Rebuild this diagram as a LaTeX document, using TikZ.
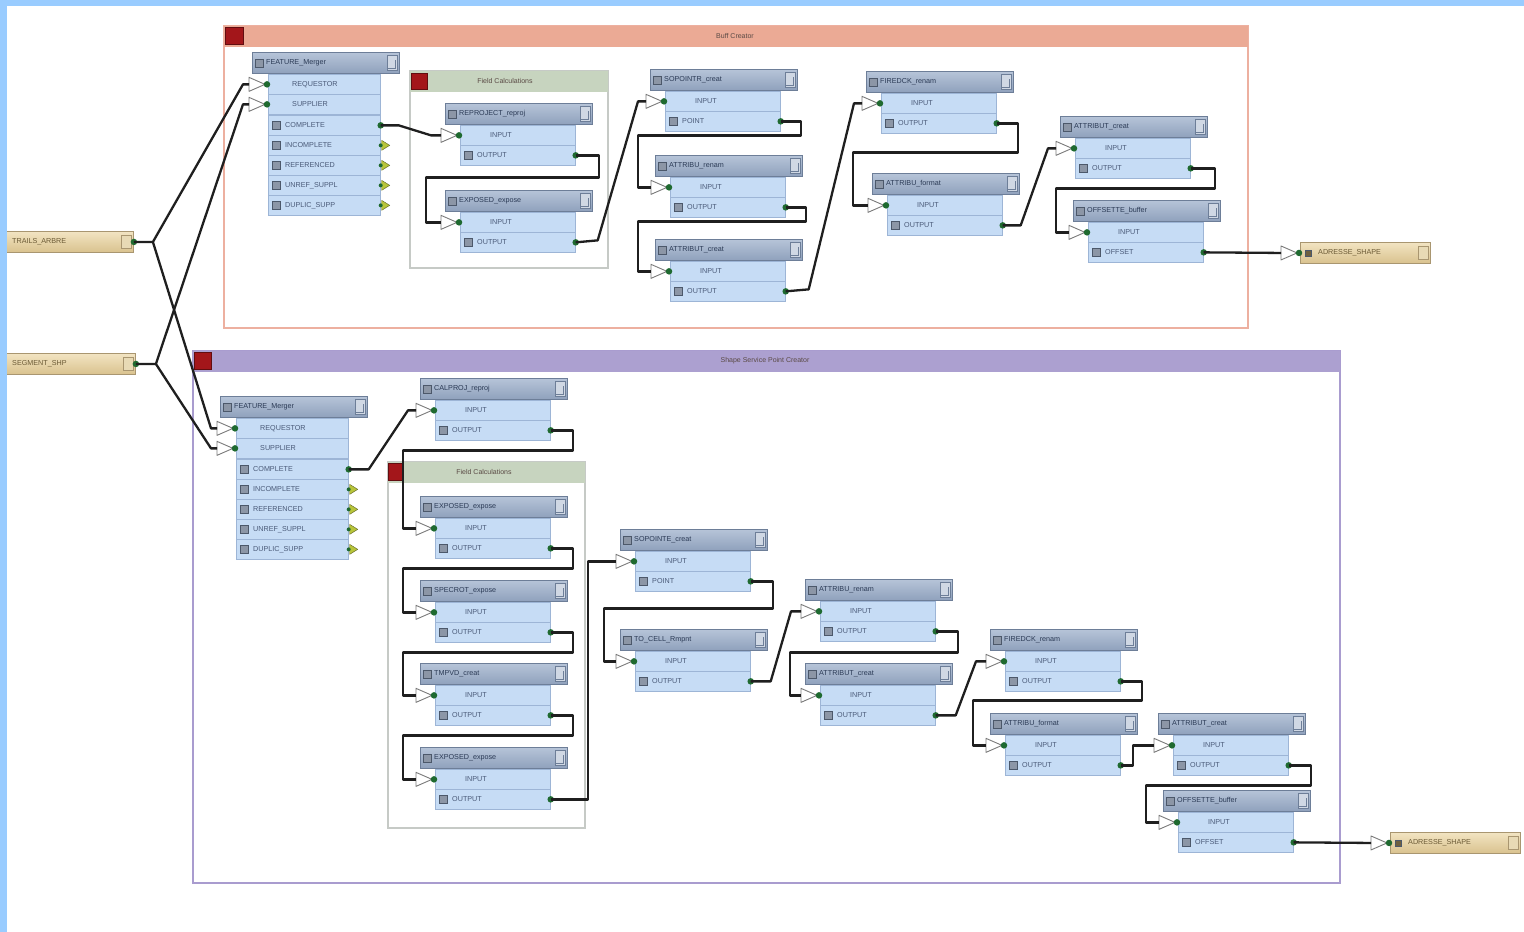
\documentclass[tikz,border=0pt]{standalone}
\usepackage{fontspec}
\setsansfont{Liberation Sans}
\usetikzlibrary{calc}

% palette
\definecolor{pageblue}{HTML}{99CCFF}
\definecolor{hdrtop}{HTML}{B6C4D8}
\definecolor{hdrbot}{HTML}{8FA1BC}
\definecolor{hdredge}{HTML}{6D7E98}
\definecolor{rowfill}{HTML}{C6DCF5}
\definecolor{rowedge}{HTML}{9DB5D6}
\definecolor{hdrtext}{HTML}{2B3A55}
\definecolor{porttext}{HTML}{4A5A78}
\definecolor{portgreen}{HTML}{1F6A30}
\definecolor{trigrey}{HTML}{7A7A7A}
\definecolor{icongrey}{HTML}{8C96A6}
\definecolor{gripfill}{HTML}{D0D8E4}
\definecolor{filetop}{HTML}{F2E4C2}
\definecolor{filebot}{HTML}{D9C28E}
\definecolor{fileedge}{HTML}{A99670}
\definecolor{filetext}{HTML}{6B5A35}
\definecolor{fileicon}{HTML}{6F6040}
\definecolor{filegrip}{HTML}{E8DAB5}
\definecolor{bmred}{HTML}{A3161A}
\definecolor{salmonhdr}{HTML}{EBAA95}
\definecolor{salmonedge}{HTML}{EDB0A0}
\definecolor{purplehdr}{HTML}{ACA0D0}
\definecolor{purpleedge}{HTML}{A99CCF}
\definecolor{fchdr}{HTML}{C7D4BF}
\definecolor{fcedge}{HTML}{C6CAC6}
\definecolor{sparegreen}{HTML}{B8C43A}
\definecolor{bmtext}{HTML}{5A4A45}

\tikzset{
  tfhead/.style={anchor=north west, minimum width=147pt, minimum height=21pt,
    inner sep=0pt, draw=hdredge, line width=0.9pt, top color=hdrtop, bottom color=hdrbot},
  portrow/.style={anchor=north west, minimum width=115pt, minimum height=20pt,
    inner sep=0pt, fill=rowfill, draw=rowedge, line width=0.7pt},
  fmrow/.style={portrow, minimum width=112pt},
  hdrtxt/.style={anchor=west, inner sep=0pt, font=\fontsize{7.2}{8}\sffamily, text=hdrtext},
  porttxt/.style={anchor=west, inner sep=0pt, font=\fontsize{7.2}{8}\sffamily, text=porttext},
  bmtitle/.style={inner sep=0pt, font=\fontsize{7}{8}\sffamily, text=bmtext},
  pdot/.style={circle, fill=portgreen, inner sep=0pt, minimum size=6.5pt},
  tri/.style={fill=white, draw=trigrey, line width=0.9pt, line join=round},
  conn/.style={draw=black!88, line width=2.3pt, line join=round},
  mini/.style={minimum width=8pt, minimum height=8pt, inner sep=0pt,
    draw=hdredge!70!black, line width=0.4pt, fill=icongrey},
  grip/.style={minimum width=10pt, minimum height=15pt, inner sep=0pt,
    draw=hdredge, line width=0.5pt, fill=gripfill},
  filebox/.style={anchor=north west, minimum height=21pt, inner sep=0pt,
    draw=fileedge, line width=0.9pt, top color=filetop, bottom color=filebot},
  redicon/.style={fill=bmred, draw=bmred!60!black, line width=0.6pt},
}

% input port: open triangle, green dot and the point where connectors arrive
\newcommand\inport[2]{%
  \draw[tri] ([xshift=-3pt]#1.west) -- ++(-16,-7) -- ++(0,14) -- cycle;
  \node[pdot] (#1-dot) at ([xshift=-1pt]#1.west) {};
  \coordinate (#2) at ([xshift=-19pt]#1.west);
}

% transformer title bar
\newcommand\tfhdr[4]{%
  \node[tfhead] (#1-h) at (#2,#3) {};
  \node[mini] (#1-hm) at ([xshift=7pt]#1-h.west) {};
  \node[hdrtxt] (#1-ht) at ([xshift=14pt]#1-h.west) {#4};
  \node[grip] (#1-hg) at ([xshift=-8pt]#1-h.east) {};
  \draw[hdredge, line width=0.5pt] ([xshift=-12pt,yshift=-5pt]#1-h.east) -- ([xshift=-5pt,yshift=-5pt]#1-h.east) -- ([xshift=-5pt,yshift=3pt]#1-h.east);
}

% one-input / one-output transformer
\newcommand\tfbox[6]{%
  \tfhdr{#1}{#2}{#3}{#4}
  \node[portrow] (#1-i) at (#2+15,#3+22) {};
  \node[porttxt] (#1-it) at ([xshift=30pt]#1-i.west) {#5};
  \node[portrow] (#1-o) at (#2+15,#3+42) {};
  \node[mini] (#1-oc) at ([xshift=8pt]#1-o.west) {};
  \node[porttxt] (#1-ot) at ([xshift=17pt]#1-o.west) {#6};
  \inport{#1-i}{#1-a}
  \node[pdot] (#1-od) at (#1-o.east) {};
}

% output row of the merger
\newcommand\fmout[4]{%
  \node[fmrow] (#1) at (#2,#3) {};
  \node[mini] (#1-ic) at ([xshift=8pt]#1.west) {};
  \node[porttxt] (#1-t) at ([xshift=17pt]#1.west) {#4};
}
% unconnected output marker
\newcommand\spare[1]{%
  \draw[fill=sparegreen, draw=sparegreen!50!black, line width=0.4pt]
    ([xshift=1pt]#1.east) -- ++(0,-5) -- ++(8,5) -- ++(-8,5) -- cycle;
  \node[pdot, minimum size=4pt] (#1-d) at (#1.east) {};
}

% FeatureMerger
\newcommand\fmbox[3]{%
  \tfhdr{#1}{#2}{#3}{FEATURE\_Merger}
  \node[fmrow] (#1-r) at (#2+16,#3+22) {};
  \node[porttxt] (#1-rt) at ([xshift=24pt]#1-r.west) {REQUESTOR};
  \node[fmrow] (#1-s) at (#2+16,#3+42) {};
  \node[porttxt] (#1-st) at ([xshift=24pt]#1-s.west) {SUPPLIER};
  \inport{#1-r}{#1-ra}
  \inport{#1-s}{#1-sa}
  \fmout{#1-c}{#2+16}{#3+63}{COMPLETE}
  \fmout{#1-n}{#2+16}{#3+83}{INCOMPLETE}
  \fmout{#1-f}{#2+16}{#3+103}{REFERENCED}
  \fmout{#1-u}{#2+16}{#3+123}{UNREF\_SUPPL}
  \fmout{#1-d}{#2+16}{#3+143}{DUPLIC\_SUPP}
  \node[pdot] (#1-cd) at (#1-c.east) {};
  \spare{#1-n}\spare{#1-f}\spare{#1-u}\spare{#1-d}
}

% reader / writer feature type
\newcommand\fmefile[5]{%
  \node[filebox, minimum width=#4pt] (#1) at (#2,#3) {};
  \node[mini, fill=fileicon, minimum width=6pt, minimum height=6pt] (#1-m) at ([xshift=8pt]#1.west) {};
  \node[hdrtxt, text=filetext] (#1-t) at ([xshift=18pt]#1.west) {#5};
  \node[grip, draw=fileedge, fill=filegrip, minimum height=13pt] (#1-g) at ([xshift=-8pt]#1.east) {};
}

% bookmark frame with coloured title band
\newcommand\bookmark[9]{% name x1 y1 x2 y2 band edge title titlex
  \draw[draw=#7, line width=2pt, fill=white] (#2,#3) rectangle (#4,#5);
  \fill[#6] (#2,#3) rectangle (#4,#3+21);
  \node[bmtitle] (#1-t) at (#9,#3+10) {#8};
}

\begin{document}
\begin{tikzpicture}[x=1pt,y=-1pt]
\useasboundingbox (0,0) rectangle (1524,932);
\fill[pageblue] (0,0) rectangle (1524,932);
\fill[white] (7,6) rectangle (1524,932);

% ---------- bookmarks ----------
\bookmark{bmA}{224}{26}{1248}{328}{salmonhdr}{salmonedge}{Buff Creator}{735}
\draw[redicon] (225,27) rectangle (243,44);
\bookmark{fcA}{410}{71}{608}{268}{fchdr}{fcedge}{Field Calculations}{505}
\draw[redicon] (411,73) rectangle (427,89);
\bookmark{bmB}{193}{351}{1340}{883}{purplehdr}{purpleedge}{Shape Service Point Creator}{765}
\draw[redicon] (194,352) rectangle (211,369);
\bookmark{fcB}{388}{462}{585}{828}{fchdr}{fcedge}{Field Calculations}{484}
\draw[redicon] (388,463) rectangle (402,480);

% ---------- readers ----------
\fmefile{R1}{-6}{231}{139}{TRAILS\_ARBRE}
\node[pdot] (R1-od) at (R1.east) {};
\fmefile{R2}{-6}{353}{141}{SEGMENT\_SHP}
\node[pdot] (R2-od) at (R2.east) {};

% ---------- upper chain ----------
\fmbox{T1}{252}{52}
\tfbox{T2}{445}{103}{REPROJECT\_reproj}{INPUT}{OUTPUT}
\tfbox{T3}{445}{190}{EXPOSED\_expose}{INPUT}{OUTPUT}
\tfbox{T4}{650}{69}{SOPOINTR\_creat}{INPUT}{POINT}
\tfbox{T5}{655}{155}{ATTRIBU\_renam}{INPUT}{OUTPUT}
\tfbox{T6}{655}{239}{ATTRIBUT\_creat}{INPUT}{OUTPUT}
\tfbox{T7}{866}{71}{FIREDCK\_renam}{INPUT}{OUTPUT}
\tfbox{T8}{872}{173}{ATTRIBU\_format}{INPUT}{OUTPUT}
\tfbox{T9}{1060}{116}{ATTRIBUT\_creat}{INPUT}{OUTPUT}
\tfbox{T10}{1073}{200}{OFFSETTE\_buffer}{INPUT}{OFFSET}
\fmefile{W1}{1300}{242}{130}{ADRESSE\_SHAPE}
\inport{W1}{W1-a}

% ---------- lower chain ----------
\fmbox{B1}{220}{396}
\tfbox{B2}{420}{378}{CALPROJ\_reproj}{INPUT}{OUTPUT}
\tfbox{B3}{420}{496}{EXPOSED\_expose}{INPUT}{OUTPUT}
\tfbox{B4}{420}{580}{SPECROT\_expose}{INPUT}{OUTPUT}
\tfbox{B5}{420}{663}{TMPVD\_creat}{INPUT}{OUTPUT}
\tfbox{B6}{420}{747}{EXPOSED\_expose}{INPUT}{OUTPUT}
\tfbox{B7}{620}{529}{SOPOINTE\_creat}{INPUT}{POINT}
\tfbox{B8}{620}{629}{TO\_CELL\_Rmpnt}{INPUT}{OUTPUT}
\tfbox{B9}{805}{579}{ATTRIBU\_renam}{INPUT}{OUTPUT}
\tfbox{B10}{805}{663}{ATTRIBUT\_creat}{INPUT}{OUTPUT}
\tfbox{B11}{990}{629}{FIREDCK\_renam}{INPUT}{OUTPUT}
\tfbox{B12}{990}{713}{ATTRIBU\_format}{INPUT}{OUTPUT}
\tfbox{B13}{1158}{713}{ATTRIBUT\_creat}{INPUT}{OUTPUT}
\tfbox{B14}{1163}{790}{OFFSETTE\_buffer}{INPUT}{OFFSET}
\fmefile{W2}{1390}{832}{130}{ADRESSE\_SHAPE}
\inport{W2}{W2-a}

% ---------- connectors: readers to mergers ----------
\draw[conn] (R1.east) -- ++(19,0) coordinate (f1) -- ([xshift=-6pt]T1-ra) -- (T1-ra);
\draw[conn] (f1) -- ([xshift=-6pt]B1-ra) -- (B1-ra);
\draw[conn] (R2.east) -- ++(20,0) coordinate (f2) -- ([xshift=-6pt]T1-sa) -- (T1-sa);
\draw[conn] (f2) -- ([xshift=-6pt]B1-sa) -- (B1-sa);

% ---------- connectors: upper chain ----------
\draw[conn] (T1-c.east) -- ++(18,0) -- ([xshift=-10pt]T2-a) -- (T2-a);
\draw[conn] (T2-o.east) -- ++(23,0) -- ++(0,22) -| ([xshift=-15pt]T3-a) -- (T3-a);
\draw[conn] (T3-o.east) -- ++(22,-2) -- ([xshift=-8pt]T4-a) -- (T4-a);
\draw[conn] (T4-o.east) -- ++(20,0) -- ++(0,14) -| ([xshift=-13pt]T5-a) -- (T5-a);
\draw[conn] (T5-o.east) -- ++(20,0) -- ++(0,14) -| ([xshift=-13pt]T6-a) -- (T6-a);
\draw[conn] (T6-o.east) -- ++(23,-2) -- ([xshift=-8pt]T7-a) -- (T7-a);
\draw[conn] (T7-o.east) -- ++(21,0) -- ++(0,29) -| ([xshift=-15pt]T8-a) -- (T8-a);
\draw[conn] (T8-o.east) -- ++(18,0) -- ([xshift=-8pt]T9-a) -- (T9-a);
\draw[conn] (T9-o.east) -- ++(24,0) -- ++(0,20) -| ([xshift=-13pt]T10-a) -- (T10-a);
\draw[conn] (T10-o.east) -- (W1-a);

% ---------- connectors: lower chain ----------
\draw[conn] (B1-c.east) -- ++(20,0) -- ([xshift=-8pt]B2-a) -- (B2-a);
\draw[conn] (B2-o.east) -- ++(22,0) -- ++(0,20) -| ([xshift=-13pt]B3-a) -- (B3-a);
\draw[conn] (B3-o.east) -- ++(22,0) -- ++(0,20) -| ([xshift=-13pt]B4-a) -- (B4-a);
\draw[conn] (B4-o.east) -- ++(22,0) -- ++(0,20) -| ([xshift=-13pt]B5-a) -- (B5-a);
\draw[conn] (B5-o.east) -- ++(22,0) -- ++(0,20) -| ([xshift=-13pt]B6-a) -- (B6-a);
\draw[conn] (B6-o.east) -| ([xshift=-28pt]B7-a) -- (B7-a);
\draw[conn] (B7-o.east) -- ++(22,0) -- ++(0,27) -| ([xshift=-12pt]B8-a) -- (B8-a);
\draw[conn] (B8-o.east) -- ++(20,0) -- ([xshift=-10pt]B9-a) -- (B9-a);
\draw[conn] (B9-o.east) -- ++(22,0) -- ++(0,21) -| ([xshift=-11pt]B10-a) -- (B10-a);
\draw[conn] (B10-o.east) -- ++(20,0) -- ([xshift=-10pt]B11-a) -- (B11-a);
\draw[conn] (B11-o.east) -- ++(21,0) -- ++(0,19) -| ([xshift=-13pt]B12-a) -- (B12-a);
\draw[conn] (B12-o.east) -- ++(12,0) |- ([xshift=-6pt]B13-a) -- (B13-a);
\draw[conn] (B13-o.east) -- ++(22,0) -- ++(0,20) -| ([xshift=-13pt]B14-a) -- (B14-a);
\draw[conn] (B14-o.east) -- (W2-a);

% window edge
\fill[pageblue] (0,0) rectangle (7,932);
\fill[pageblue] (0,0) rectangle (1524,6);
\end{tikzpicture}
\end{document}
